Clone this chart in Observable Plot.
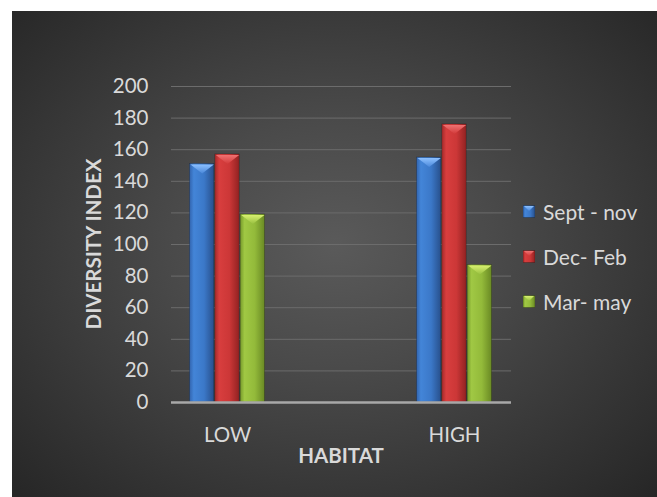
<!DOCTYPE html>
<html><head><meta charset="utf-8">
<script src="https://cdn.jsdelivr.net/npm/d3@7"></script>
<script src="https://cdn.jsdelivr.net/npm/@observablehq/plot@0.6"></script>
<style>
html,body{margin:0;padding:0;background:#fff;width:657px;height:497px;overflow:hidden;}
#panel{position:absolute;left:12px;top:11px;width:645px;height:486px;
  background:radial-gradient(ellipse farthest-corner at 50% 48%, #5a5a5a 0%, #4a4a4a 35%, #262626 100%);
  font-family:Lato,"Open Sans",sans-serif;color:#d9d9d9;}
#legend{position:absolute;left:511px;top:0;}
.item{position:absolute;left:0;height:20px;display:flex;align-items:center;white-space:nowrap;font-size:21px;}
.item svg{margin-right:8px;}
</style></head><body><div id="panel"><div id="legend"></div></div>
<script>
const habitats = ["LOW", "HIGH"];
const seriesNames = ["Sept - nov", "Dec- Feb", "Mar- may"];
const septNov = [151, 155];
const decFeb = [157, 176];
const marMay = [119, 87];
const yTicks = [0, 20, 40, 60, 80, 100, 120, 140, 160, 180, 200];
const seriesValues = [septNov, decFeb, marMay];
const gradIds = ["gBlue", "gRed", "gGreen"];
const bevelIds = ["bBlue", "bRed", "bGreen"];

const data = seriesNames.flatMap((s, i) => habitats.map((h, j) => ({habitat: h, series: s, value: seriesValues[i][j]})));

const W = 645, H = 486, mL = 159, mR = 146, mT = 75, mB = 95;
const xOpts = {type: "band", domain: habitats, paddingInner: 0.665, paddingOuter: 0.081, round: true};
const xs = Plot.scale({x: {...xOpts, range: [mL, W - mR]}});
const bw = xs.bandwidth;
const sub = bw / 3;

const bevel = (w, h) => ({draw(ctx) { ctx.moveTo(-w / 2, 0); ctx.lineTo(w / 2, 0); ctx.lineTo(0, h); ctx.closePath(); }});

const marks = [
  Plot.ruleY(yTicks.filter(d => d > 0), {stroke: "#6c6c6c", strokeWidth: 1})
];
seriesNames.forEach((s, i) => {
  const rows = data.filter(d => d.series === s);
  marks.push(Plot.barY(rows, {x: "habitat", y: "value", fill: `url(#${gradIds[i]})`,
    insetLeft: i * sub + 0.5, insetRight: (2 - i) * sub + 0.5, stroke: "rgba(0,0,0,0.35)", strokeWidth: 0.6}));
  marks.push(Plot.dot(rows, {x: "habitat", y: "value", symbol: bevel(sub - 2, 9), r: 5,
    fill: `url(#${bevelIds[i]})`, stroke: "none", dx: (i - 1) * sub, dy: 0.5}));
});
marks.push(Plot.ruleY([0], {stroke: "#a8a8a8", strokeWidth: 2.5}));

const chart = Plot.plot({
  width: W, height: H,
  marginLeft: mL, marginRight: mR, marginTop: mT, marginBottom: mB,
  style: {background: "transparent", color: "#d9d9d9", fontFamily: "Lato, 'Open Sans', sans-serif", fontSize: "20.5px", overflow: "visible"},
  x: {...xOpts, label: null, tickSize: 0, tickPadding: 25},
  y: {domain: [0, 200], ticks: yTicks, label: null, tickSize: 0, tickPadding: 23},
  marks
});

const svg = d3.select(chart);
const defs = svg.insert("defs", ":first-child");
const grads = [
  ["#3264ae", "#4385d8", "#3b78c8", "#28508c"],
  ["#a42a2a", "#d83e3e", "#cc3737", "#922222"],
  ["#769a2a", "#a0c844", "#93ba3a", "#6a8a24"]
];
const bev = [["#8cc0ff", "#4a88da"], ["#f07272", "#d23a3a"], ["#d8f070", "#98c040"]];
gradIds.forEach((id, i) => {
  const g = defs.append("linearGradient").attr("id", id).attr("x1", 0).attr("x2", 1).attr("y1", 0).attr("y2", 0);
  [0, 0.18, 0.6, 1].forEach((o, k) => g.append("stop").attr("offset", o).attr("stop-color", grads[i][k]));
  const b = defs.append("linearGradient").attr("id", bevelIds[i]).attr("x1", 0).attr("x2", 0).attr("y1", 0).attr("y2", 1);
  b.append("stop").attr("offset", 0).attr("stop-color", bev[i][0]);
  b.append("stop").attr("offset", 1).attr("stop-color", bev[i][1]);
});
svg.append("text").attr("transform", "translate(88.5,233) rotate(-90)").attr("text-anchor", "middle")
  .attr("fill", "#d9d9d9").attr("font-weight", "bold").attr("font-size", "20.5px").text("DIVERSITY INDEX");
svg.append("text").attr("x", 329).attr("y", 452).attr("text-anchor", "middle")
  .attr("fill", "#d9d9d9").attr("font-weight", "bold").attr("font-size", "20.5px").text("HABITAT");
document.getElementById("panel").appendChild(chart);
chart.style.position = "absolute"; chart.style.left = "0"; chart.style.top = "0";

const legend = d3.select("#legend");
const legendTops = [190, 235.5, 280.5];
seriesNames.forEach((s, i) => {
  const it = legend.append("div").attr("class", "item").style("top", legendTops[i] + "px");
  const sv = it.append("svg").attr("width", 12).attr("height", 13);
  sv.append("rect").attr("x", 0).attr("y", 0.5).attr("width", 12).attr("height", 12).attr("fill", `url(#${gradIds[i]})`).attr("stroke", "rgba(0,0,0,0.4)").attr("stroke-width", 0.6);
  sv.append("path").attr("d", "M1,1L11,1L6,6Z").attr("fill", `url(#${bevelIds[i]})`);
  it.append("span").text(s);
});
</script>
</body></html>
